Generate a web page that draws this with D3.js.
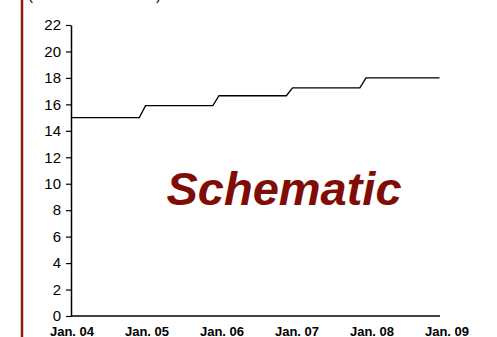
<!DOCTYPE html>
<html>
<head>
<meta charset="utf-8">
<script src="https://cdn.jsdelivr.net/npm/d3@7"></script>
<style>
  html, body { margin: 0; padding: 0; background: #fff; }
  svg { display: block; font-family: Arial, "Liberation Sans", sans-serif; }
</style>
</head>
<body>
<svg id="chart" width="497" height="337"></svg>
<script>
// Step series: month index from Jan. 04 and level at each vertex
const stepMonths = [0, 11, 12, 23, 24, 35, 36, 47, 48, 60];
const stepValues = [15, 15, 15.9, 15.9, 16.65, 16.65, 17.25, 17.25, 18, 18];

// Axis labels
const xTickLabels = ["Jan. 04", "Jan. 05", "Jan. 06", "Jan. 07", "Jan. 08", "Jan. 09"];
const yTicks = [0, 2, 4, 6, 8, 10, 12, 14, 16, 18, 20, 22];
const unitLabel = "(Million Metric Tons)";
const stampText = "Schematic";

const svg = d3.select("#chart");

const plot = { left: 71, right: 440, top: 25, bottom: 316 };

const x = d3.scaleLinear().domain([0, 60]).range([72, 439.5]);
const xLabels = d3.scalePoint().domain(xTickLabels).range([72, 447]);
const y = d3.scaleLinear().domain([0, 22]).range([plot.bottom, plot.top]);

// Red rule on the left edge
svg.append("line")
  .attr("x1", 22).attr("x2", 22)
  .attr("y1", 0).attr("y2", 337)
  .attr("stroke", "#8b1a1a").attr("stroke-width", 2.5);

// Unit label, mostly above the visible area
svg.append("text")
  .attr("x", 28).attr("y", 0)
  .attr("font-size", 15)
  .attr("fill", "#000")
  .text(unitLabel);

// Y axis
const yAxis = d3.axisLeft(y).tickValues(yTicks).tickSize(5).tickPadding(5).tickSizeOuter(0);
const gy = svg.append("g")
  .attr("transform", `translate(${plot.left},0)`)
  .call(yAxis);
gy.select(".domain").attr("stroke", "#000").attr("stroke-width", 1.5);
gy.selectAll(".tick line").attr("stroke", "#000").attr("stroke-width", 1.2);
gy.selectAll(".tick text")
  .attr("font-size", 15)
  .attr("font-family", "Arial, 'Liberation Sans', sans-serif")
  .attr("fill", "#000");

// X axis line
svg.append("line")
  .attr("x1", plot.left).attr("x2", plot.right)
  .attr("y1", plot.bottom).attr("y2", plot.bottom)
  .attr("stroke", "#000").attr("stroke-width", 1.5);

// X labels
svg.append("g").selectAll("text")
  .data(xTickLabels)
  .join("text")
  .attr("x", d => xLabels(d))
  .attr("y", 336)
  .attr("text-anchor", "middle")
  .attr("font-size", 13)
  .attr("font-weight", "bold")
  .attr("fill", "#000")
  .text(d => d);

// Step line
const pts = stepMonths.map((m, i) => [m, stepValues[i]]);
svg.append("path")
  .datum(pts)
  .attr("fill", "none")
  .attr("stroke", "#000")
  .attr("stroke-width", 1.3)
  .attr("d", d3.line().x(d => x(d[0])).y(d => y(d[1])));

// Stamp
svg.append("text")
  .attr("x", 284).attr("y", 205)
  .attr("text-anchor", "middle")
  .attr("font-size", 47)
  .attr("font-weight", "bold")
  .attr("font-style", "italic")
  .attr("fill", "#7f0c06")
  .text(stampText);
</script>
</body>
</html>
